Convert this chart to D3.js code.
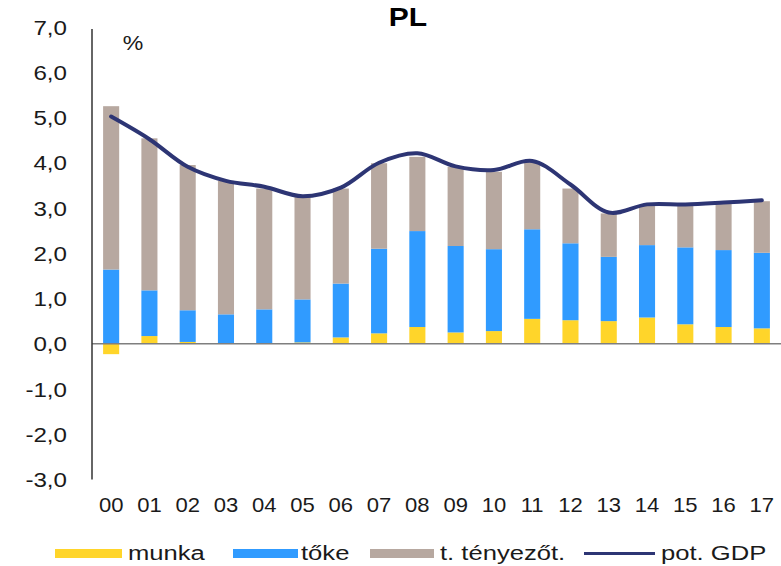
<!DOCTYPE html>
<html>
<head>
<meta charset="utf-8">
<script src="https://cdn.jsdelivr.net/npm/d3@7"></script>
<style>
  html, body { margin: 0; padding: 0; background: #fff; }
  svg { display: block; font-family: "Liberation Sans", Arial, sans-serif; }
</style>
</head>
<body>
<svg id="chart" width="781" height="566"></svg>
<script>
const categories = ["00","01","02","03","04","05","06","07","08","09","10","11","12","13","14","15","16","17"];
const munka   = [-0.23, 0.17, 0.04, 0.00, 0.00, 0.03, 0.14, 0.23, 0.37, 0.25, 0.28, 0.55, 0.52, 0.50, 0.58, 0.43, 0.37, 0.34];
const toke    = [ 1.64, 1.01, 0.70, 0.65, 0.76, 0.95, 1.19, 1.87, 2.12, 1.91, 1.81, 1.98, 1.70, 1.42, 1.60, 1.70, 1.70, 1.67];
const tenyezo = [ 3.61, 3.36, 3.21, 2.95, 2.67, 2.27, 2.10, 1.89, 1.64, 1.75, 1.71, 1.49, 1.21, 0.96, 0.88, 0.94, 1.02, 1.14];
const potGDP  = [ 5.02, 4.52, 3.91, 3.60, 3.47, 3.26, 3.45, 4.00, 4.21, 3.92, 3.84, 4.04, 3.52, 2.90, 3.08, 3.08, 3.12, 3.17];
const yTicks  = [-3,-2,-1,0,1,2,3,4,5,6,7];
const seriesNames = ["munka","tőke","t. tényezőt.","pot. GDP"];
const colors = { munka: "#FFD52A", toke: "#309BFF", tenyezo: "#B7A8A0", gdp: "#2D3574" };

const svg = d3.select("#chart");
const x = d3.scaleBand().domain(categories).range([92, 781]).paddingInner(0.58).paddingOuter(0.29);
const y = d3.scaleLinear().domain([-3, 7]).range([479.5, 27]);

const fmt = v => d3.format(".1f")(v).replace(".", ",").replace("−", "-");

// stacked bars
const rows = categories.map((c, i) => ({ cat: c, munka: munka[i], toke: toke[i], tenyezo: tenyezo[i] }));
const stack = d3.stack().keys(["munka", "toke", "tenyezo"]).offset(d3.stackOffsetDiverging);
const layers = stack(rows);
svg.append("g").selectAll("g").data(layers).join("g")
  .attr("fill", d => colors[d.key])
  .selectAll("rect").data(d => d).join("rect")
  .attr("x", d => x(d.data.cat))
  .attr("width", x.bandwidth())
  .attr("y", d => y(Math.max(d[0], d[1])))
  .attr("height", d => Math.abs(y(d[0]) - y(d[1])));

// zero line
svg.append("line").attr("x1", 92).attr("x2", 781).attr("y1", y(0)).attr("y2", y(0))
  .attr("stroke", "#7f7f7f").attr("stroke-width", 1.5);
// y axis line
svg.append("line").attr("x1", 92).attr("x2", 92).attr("y1", 29).attr("y2", y(-3))
  .attr("stroke", "#333").attr("stroke-width", 1.5);

// potential GDP line
const line = d3.line().x((d, i) => x(categories[i]) + x.bandwidth() / 2).y(d => y(d)).curve(d3.curveCatmullRom.alpha(0.5));
svg.append("path").datum(potGDP).attr("d", line).attr("fill", "none")
  .attr("stroke", colors.gdp).attr("stroke-width", 4).attr("stroke-linejoin", "round").attr("stroke-linecap", "round");

function stretchedText(g, tx, ty, str, opts) {
  const t = g.append("text")
    .attr("transform", `translate(${tx},${ty}) scale(${opts.sx || 1},1)`)
    .attr("text-anchor", opts.anchor || "start")
    .attr("font-size", opts.size)
    .attr("font-weight", opts.weight || "normal")
    .attr("fill", opts.fill || "#1a1a1a")
    .text(str);
  return t;
}

// y tick labels
const yg = svg.append("g");
yTicks.forEach(v => stretchedText(yg, 67, y(v) + 7.5, fmt(v), { size: 21, anchor: "end", sx: 1.15 }));

// x tick labels
const xg = svg.append("g");
categories.forEach(c => stretchedText(xg, x(c) + x.bandwidth() / 2, 512, c, { size: 21, anchor: "middle", sx: 1.05 }));

// title and unit
stretchedText(svg, 408, 26, "PL", { size: 25, anchor: "middle", weight: "bold", sx: 1.2, fill: "#000" });
stretchedText(svg, 133, 50, "%", { size: 21, anchor: "middle", sx: 1.1 });

// legend
const lg = svg.append("g");
const legendItems = [
  { name: seriesNames[0], color: colors.munka, type: "bar", x0: 55, x1: 122, tx: 128 },
  { name: seriesNames[1], color: colors.toke, type: "bar", x0: 233, x1: 298, tx: 301 },
  { name: seriesNames[2], color: colors.tenyezo, type: "bar", x0: 370, x1: 434, tx: 440 },
  { name: seriesNames[3], color: colors.gdp, type: "line", x0: 584, x1: 655, tx: 661 }
];
legendItems.forEach(it => {
  if (it.type === "bar") {
    lg.append("rect").attr("x", it.x0).attr("y", 549).attr("width", it.x1 - it.x0).attr("height", 9).attr("fill", it.color);
  } else {
    lg.append("line").attr("x1", it.x0).attr("x2", it.x1).attr("y1", 553.5).attr("y2", 553.5)
      .attr("stroke", it.color).attr("stroke-width", 3);
  }
  stretchedText(lg, it.tx, 560, it.name, { size: 21, sx: 1.22 });
});
</script>
</body>
</html>
